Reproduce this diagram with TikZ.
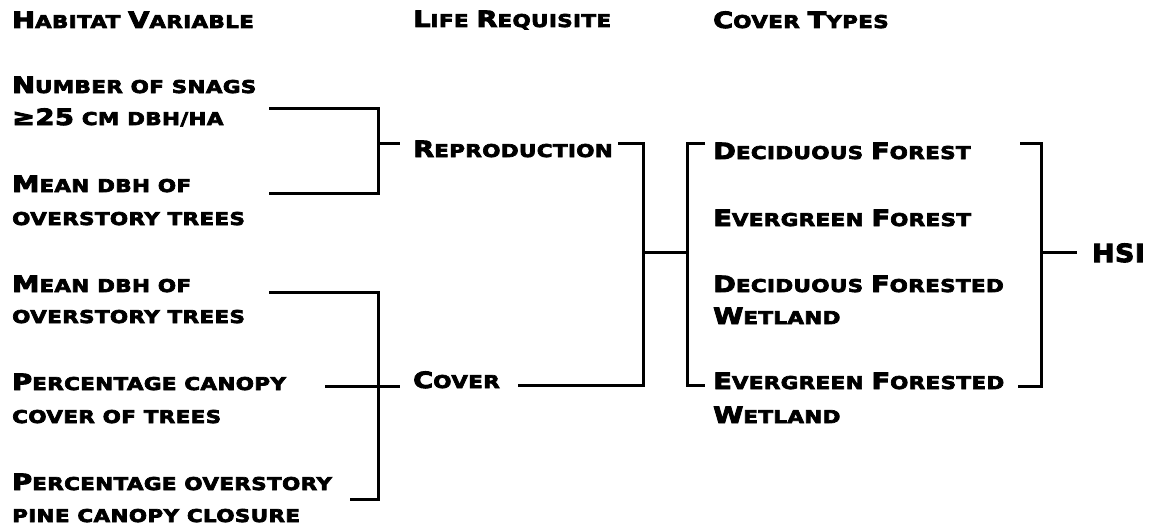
\documentclass[tikz,border=0pt]{standalone}
\usepackage{fontspec}
\newfontfamily\cpfont{DejaVu Sans}[FakeStretch=1.22,LetterSpace=2,FakeBold=4]
\newcommand\Bg[1]{{\fontsize{22.4}{26}\selectfont #1}}
\tikzset{
  lbl/.style={anchor=base west, inner sep=0pt, font=\cpfont\bfseries\fontsize{17.6}{20}\selectfont},
  conn/.style={line width=3pt, line cap=butt, line join=miter},
}
\begin{document}
\begin{tikzpicture}[x=1pt,y=-1pt]
\useasboundingbox (0,0) rectangle (1150,527);
% headers
\node[lbl] (h1) at (12,28) {\Bg{H}ABITAT \Bg{V}ARIABLE};
\node[lbl] (h2) at (413,27) {\Bg{L}IFE \Bg{R}EQUISITE};
\node[lbl] (h3) at (713,28) {\Bg{C}OVER \Bg{T}YPES};
% habitat variables
\node[lbl] (a1) at (12,93) {\Bg{N}UMBER OF SNAGS};
\node[lbl] (a2) at (12,125) {\Bg{≥25} CM DBH/HA};
\node[lbl] (b1) at (12,192) {\Bg{M}EAN DBH OF};
\node[lbl] (b2) at (12,225) {OVERSTORY TREES};
\node[lbl] (c1) at (12,292) {\Bg{M}EAN DBH OF};
\node[lbl] (c2) at (12,323) {OVERSTORY TREES};
\node[lbl] (d1) at (12,390) {\Bg{P}ERCENTAGE CANOPY};
\node[lbl] (d2) at (12,423) {COVER OF TREES};
\node[lbl] (e1) at (12,490) {\Bg{P}ERCENTAGE OVERSTORY};
\node[lbl] (e2) at (12,522) {PINE CANOPY CLOSURE};
% life requisites
\node[lbl] (rep) at (413,157) {\Bg{R}EPRODUCTION};
\node[lbl] (cov) at (413,388) {\Bg{C}OVER};
% cover types
\node[lbl] (f1) at (713,159) {\Bg{D}ECIDUOUS \Bg{F}OREST};
\node[lbl] (g1) at (713,226) {\Bg{E}VERGREEN \Bg{F}OREST};
\node[lbl] (i1) at (713,292) {\Bg{D}ECIDUOUS \Bg{F}ORESTED};
\node[lbl] (i2) at (713,324) {\Bg{W}ETLAND};
\node[lbl] (j1) at (713,389) {\Bg{E}VERGREEN \Bg{F}ORESTED};
\node[lbl] (j2) at (713,423) {\Bg{W}ETLAND};
\node[lbl, font=\cpfont\bfseries\fontsize{25}{28}\selectfont, xscale=0.88] (hsi) at (1092,262) {HSI};
% coordinates
\coordinate (aT) at (269,108);
\coordinate (aB) at (269,193);
\coordinate (aS) at (400,143);
\coordinate (cT) at (269,292);
\coordinate (cB) at (350,499);
\coordinate (cL) at (325,386);
\coordinate (cR) at (400,386);
\coordinate (rL) at (618,143);
\coordinate (vL) at (518,385);
\coordinate (mS) at (687,252);
\coordinate (tT) at (705,143);
\coordinate (tB) at (705,385);
\coordinate (qT) at (1020,143);
\coordinate (qB) at (1018,386);
\coordinate (qS) at (1077,252);
% bracket reproduction
\draw[conn] (aT) -- (378,108) -- (378,193) -- (aB);
\draw[conn] (378,143) -- (aS);
% bracket cover
\draw[conn] (cT) -- (378,292) -- (378,499) -- (cB);
\draw[conn] (cL) -- (cR);
% life requisite joint
\draw[conn] (rL) -- (643,143) -- (643,385) -- (vL);
\draw[conn] (643,252) -- (mS);
\draw[conn] (tT) -- (687,143) -- (687,385) -- (tB);
% HSI bracket
\draw[conn] (qT) -- (1041,143) -- (1041,386) -- (qB);
\draw[conn] (1041,252) -- (qS);
\end{tikzpicture}
\end{document}
